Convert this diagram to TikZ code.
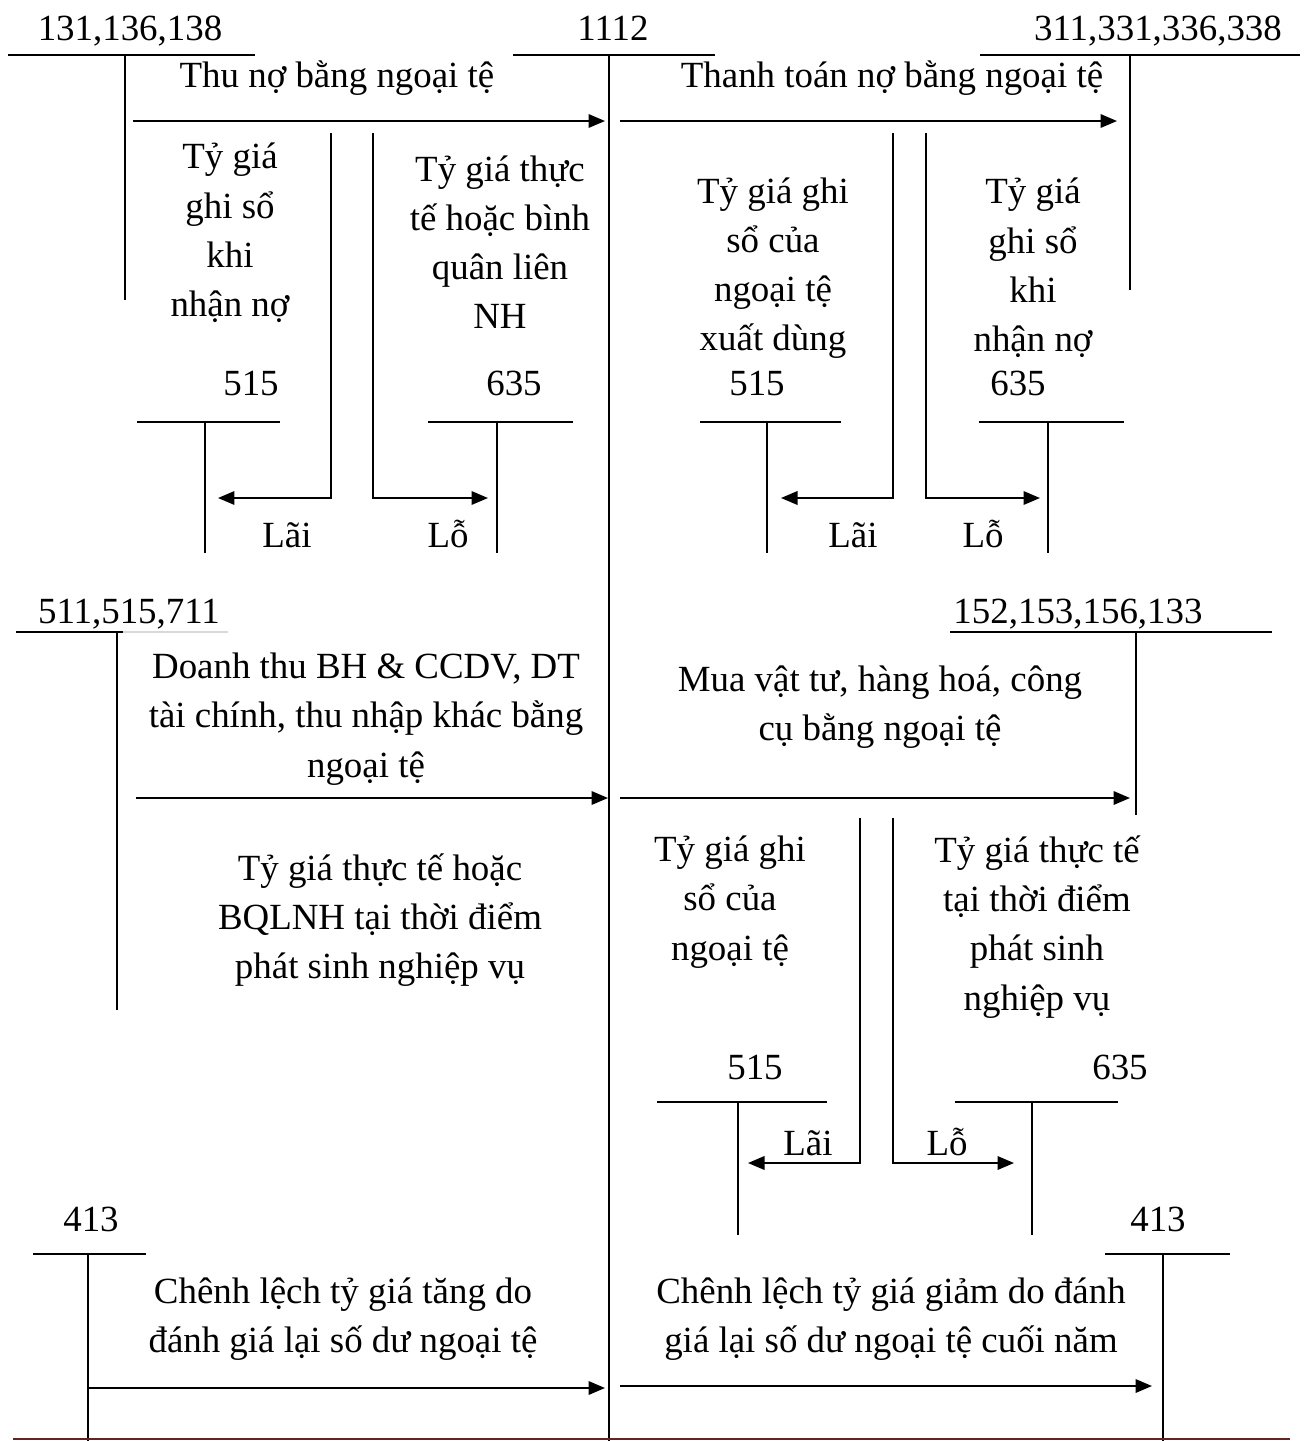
\documentclass[tikz,border=0pt]{standalone}
\usepackage{fontspec}
\setmainfont{Liberation Serif}
\usepackage{xcolor}
\usetikzlibrary{arrows.meta,positioning,calc}
\definecolor{ruleRed}{RGB}{99,37,35}

\begin{document}
\begin{tikzpicture}[x=0.02cm,y=-0.02cm,
  acct/.style={font=\fontsize{21}{28}\selectfont,inner sep=0pt,anchor=base},
  note/.style={font=\fontsize{21}{28}\selectfont,align=center,inner sep=0pt},
  tline/.style={line width=0.8pt},
  arr/.style={-{Triangle[length=0.33cm,width=0.27cm]},line width=1.1pt}]
\useasboundingbox (0,0) rectangle (1304,1441);

% accounts, top row
\node[acct] (a131) at (130,40) {131,136,138};
\node[acct] (a1112) at (613,40) {1112};
\node[acct] (a311) at (1158,40) {311,331,336,338};
\draw[tline] (8,55) -- (255,55) (125,55) -- (125,300);
\draw[tline] (513,55) -- (715,55) (609,55) -- (609,1441);
\draw[tline] (980,55) -- (1300,55) (1130,55) -- (1130,290);

\node[note] (thuno) at (337,78) {Thu nợ bằng ngoại tệ};
\node[note] (ttno) at (892,78) {Thanh toán nợ bằng ngoại tệ};
\coordinate (p1) at (133,121); \coordinate (p2) at (605,121);
\coordinate (p3) at (620,121); \coordinate (p4) at (1117,121);
\draw[arr] (p1) -- (p2);
\draw[arr] (p3) -- (p4);

\node[note] (tg1) at (230,233) {Tỷ giá\\ghi sổ\\khi\\nhận nợ};
\node[note] (tg2) at (500,242) {Tỷ giá thực\\tế hoặc bình\\quân liên\\NH};
\node[note] (tg3) at (773,268) {Tỷ giá ghi\\sổ của\\ngoại tệ\\xuất dùng};
\node[note] (tg4) at (1033,268) {Tỷ giá\\ghi sổ\\khi\\nhận nợ};

% 515 / 635, top row
\node[acct] (a515a) at (251,395) {515};
\node[acct] (a635a) at (514,395) {635};
\node[acct] (a515b) at (757,395) {515};
\node[acct] (a635b) at (1018,395) {635};
\draw[tline] (137,422) -- (280,422) (205,422) -- (205,553);
\draw[tline] (428,422) -- (573,422) (497,422) -- (497,553);
\draw[tline] (700,422) -- (841,422) (767,422) -- (767,553);
\draw[tline] (979,422) -- (1124,422) (1048,422) -- (1048,553);

\coordinate (q1) at (331,133); \coordinate (q2) at (218,498);
\coordinate (q3) at (373,133); \coordinate (q4) at (488,498);
\coordinate (q5) at (893,133); \coordinate (q6) at (781,498);
\coordinate (q7) at (926,133); \coordinate (q8) at (1040,498);
\draw[arr] (q1) |- (q2);
\draw[arr] (q3) |- (q4);
\draw[arr] (q5) |- (q6);
\draw[arr] (q7) |- (q8);
\node[acct] (lai1) at (287,547) {Lãi};
\node[acct] (lo1) at (448,547) {Lỗ};
\node[acct] (lai2) at (853,547) {Lãi};
\node[acct] (lo2) at (983,547) {Lỗ};

% accounts, middle row
\node[acct] (a511) at (129,623) {511,515,711};
\node[acct] (a152) at (1078,623) {152,153,156,133};
\draw[tline] (16,632) -- (123,632) (117,632) -- (117,1010);
\draw[black!15,line width=0.6pt] (123,632) -- (228,632);
\draw[tline] (950,632) -- (1272,632) (1136,632) -- (1136,815);

\node[note] (doanhthu) at (366,719) {Doanh thu BH \& CCDV, DT\\tài chính, thu nhập khác bằng\\ngoại tệ};
\node[note] (muavt) at (880,707) {Mua vật tư, hàng hoá, công\\cụ bằng ngoại tệ};
\coordinate (r1) at (136,798); \coordinate (r2) at (608,798);
\coordinate (r3) at (620,798); \coordinate (r4) at (1130,798);
\draw[arr] (r1) -- (r2);
\draw[arr] (r3) -- (r4);

\node[note] (tg5) at (380,920) {Tỷ giá thực tế hoặc\\BQLNH tại thời điểm\\phát sinh nghiệp vụ};
\node[note] (tg6) at (730,902) {Tỷ giá ghi\\sổ của\\ngoại tệ};
\node[note] (tg7) at (1037,927) {Tỷ giá thực tế\\tại thời điểm\\phát sinh\\nghiệp vụ};

\node[acct] (a515c) at (755,1079) {515};
\node[acct] (a635c) at (1120,1079) {635};
\draw[tline] (657,1102) -- (827,1102) (738,1102) -- (738,1235);
\draw[tline] (955,1102) -- (1118,1102) (1032,1102) -- (1032,1235);
\coordinate (s1) at (860,818); \coordinate (s2) at (748,1163);
\coordinate (s3) at (893,818); \coordinate (s4) at (1014,1163);
\draw[arr] (s1) |- (s2);
\draw[arr] (s3) |- (s4);
\node[acct] (lai3) at (808,1155) {Lãi};
\node[acct] (lo3) at (947,1155) {Lỗ};

% 413, bottom row
\node[acct] (a413a) at (91,1231) {413};
\node[acct] (a413b) at (1158,1231) {413};
\draw[tline] (33,1254) -- (146,1254) (88,1254) -- (88,1441);
\draw[tline] (1105,1254) -- (1230,1254) (1163,1254) -- (1163,1441);

\node[note] (cltang) at (343,1319) {Chênh lệch tỷ giá tăng do\\đánh giá lại số dư ngoại tệ};
\node[note] (clgiam) at (891,1319) {Chênh lệch tỷ giá giảm do đánh\\giá lại số dư ngoại tệ cuối năm};
\coordinate (u1) at (88,1388); \coordinate (u2) at (605,1388);
\coordinate (u3) at (620,1386); \coordinate (u4) at (1152,1386);
\draw[arr] (u1) -- (u2);
\draw[arr] (u3) -- (u4);

\draw[ruleRed,line width=0.9pt] (13,1439) -- (1290,1439);
\end{tikzpicture}
\end{document}
